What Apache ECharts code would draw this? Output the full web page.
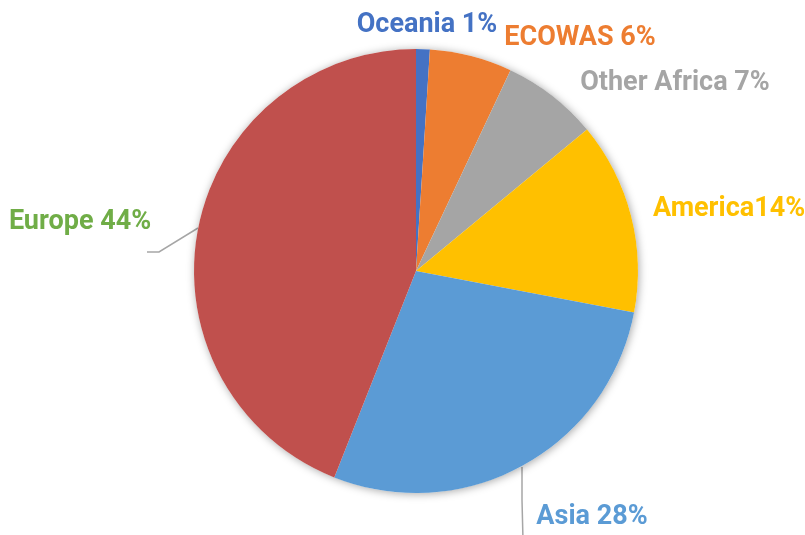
<!DOCTYPE html>
<html>
<head>
<meta charset="utf-8">
<script src="https://cdn.jsdelivr.net/npm/echarts@6/dist/echarts.min.js"></script>
<style>
  html, body { margin: 0; padding: 0; background: #ffffff; }
  #chart { width: 805px; height: 535px; }
</style>
</head>
<body>
<div id="chart"></div>
<script>
// Share of the total by region, clockwise from 12 o'clock
const regions = ['Oceania', 'ECOWAS', 'Other Africa', 'America', 'Asia', 'Europe'];
const shares = [1, 6, 7, 14, 28, 44];
const labelTexts = ['Oceania 1%', 'ECOWAS 6%', 'Other Africa 7%', 'America14%', 'Asia 28%', 'Europe 44%'];
const sliceColors = ['#4472C4', '#ED7D31', '#A5A5A5', '#FFC000', '#5B9BD5', '#C0504D'];
const textColors = ['#4472C4', '#ED7D31', '#A5A5A5', '#FFC000', '#5B9BD5', '#70AD47'];

// Where each label sits (centre of text) and which ones carry a leader line
const labelSpots = [
  { x: 427, y: 25 },
  { x: 580, y: 38 },
  { x: 675, y: 83 },
  { x: 729, y: 209 },
  { x: 592, y: 517 },
  { x: 80, y: 222 }
];
const leaderLines = {
  4: [[522, 467], [522, 500], [523, 540]],
  5: [[198, 228], [159, 252], [147, 252]]
};

const chart = echarts.init(document.getElementById('chart'), null, { renderer: 'canvas' });

const CX = 416, CY = 271, R = 222;

chart.setOption({
  backgroundColor: '#ffffff',
  animation: false,
  series: [
    {
      // soft drop shadow under the whole disc
      type: 'pie',
      silent: true,
      center: [CX, CY],
      radius: R,
      label: { show: false },
      labelLine: { show: false },
      itemStyle: {
        color: '#ffffff',
        shadowBlur: 9,
        shadowColor: 'rgba(0,0,0,0.35)',
        shadowOffsetX: 1,
        shadowOffsetY: 1
      },
      data: [{ value: 1, name: '' }]
    },
    {
      type: 'pie',
      center: [CX, CY],
      radius: R,
      startAngle: 90,
      clockwise: true,
      avoidLabelOverlap: false,
      itemStyle: { borderWidth: 0 },
      label: {
        show: true,
        position: 'outside',
        fontFamily: 'Roboto',
        fontWeight: 'bold',
        fontSize: 27,
        formatter: p => labelTexts[p.dataIndex]
      },
      labelLine: {
        show: true,
        lineStyle: { color: '#A6A6A6', width: 1.5 }
      },
      labelLayout: function (params) {
        const i = params.dataIndex;
        const spot = labelSpots[i];
        const out = { x: spot.x, y: spot.y, align: 'center', verticalAlign: 'middle' };
        if (leaderLines[i]) out.labelLinePoints = leaderLines[i];
        return out;
      },
      data: regions.map((name, i) => ({
        name: name,
        value: shares[i],
        itemStyle: { color: sliceColors[i] },
        label: { color: textColors[i] },
        labelLine: { show: !!leaderLines[i] }
      }))
    }
  ]
});
</script>
</body>
</html>
